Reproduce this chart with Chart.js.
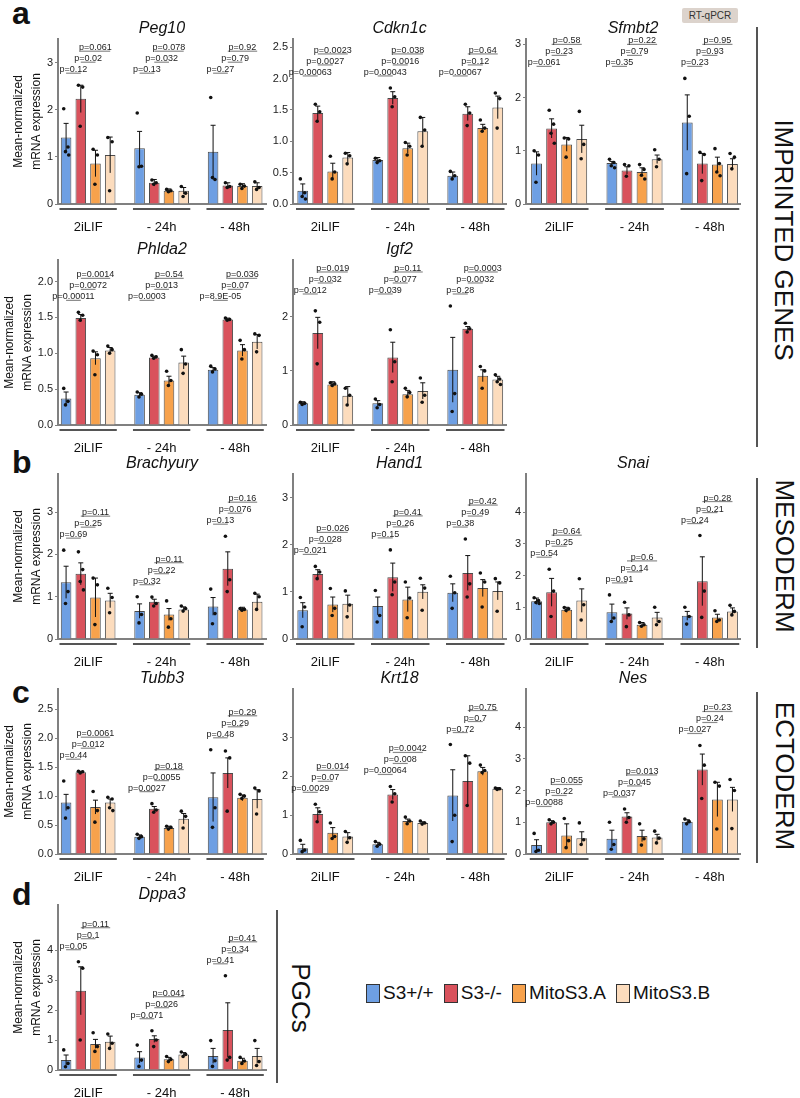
<!DOCTYPE html>
<html>
<head>
<meta charset="utf-8">
<script src="https://cdn.jsdelivr.net/npm/chart.js@4.4.1/dist/chart.umd.min.js"></script>
<style>
  body { margin: 0; background: #fff; font-family: 'Liberation Sans', Arial, sans-serif; }
  #fig { position: relative; width: 800px; height: 1098px; overflow: hidden; background: #fff; }
  #fig canvas { position: absolute; }
  .letter { position: absolute; left: 12px; font-size: 32px; font-weight: bold; line-height: 1; color: #111; }
  .side { position: absolute; font-size: 26px; line-height: 1; color: #111; white-space: nowrap; transform: translate(-50%, -50%) rotate(90deg); }
  .vline { position: absolute; width: 2px; background: #555; }
  .badge { position: absolute; left: 682px; top: 8px; width: 56px; height: 15px; background: #dcd3cc; color: #333;
           font-size: 10px; line-height: 15px; text-align: center; border-radius: 2px; }
  #legend { position: absolute; left: 366px; top: 982px; display: flex; align-items: center; font-size: 19px; color: #111; }
  #legend .item { display: flex; align-items: center; margin-right: 10px; }
  #legend .box { width: 12px; height: 17px; border: 1px solid #333; margin-right: 3px; }
</style>
</head>
<body>
<div id="fig">
  <div class="letter" style="top:-3px">a</div>
  <div class="letter" style="top:446px">b</div>
  <div class="letter" style="top:676px">c</div>
  <div class="letter" style="top:878px">d</div>
  <div class="badge">RT-qPCR</div>
  <div class="vline" style="left:756px;top:27px;height:420px"></div>
  <div class="vline" style="left:756px;top:478px;height:170px"></div>
  <div class="vline" style="left:756px;top:692px;height:171px"></div>
  <div class="vline" style="left:276px;top:910px;height:173px"></div>
  <div class="side" style="left:784px;top:240px">IMPRINTED GENES</div>
  <div class="side" style="left:785px;top:556px">MESODERM</div>
  <div class="side" style="left:785px;top:776px">ECTODERM</div>
  <div class="side" style="left:301px;top:998px">PGCs</div>
  <div id="legend"></div>
</div>
<script>
const groups = ['2iLIF', '- 24h', '- 48h'];
const series = ['S3+/+', 'S3-/-', 'MitoS3.A', 'MitoS3.B'];
const seriesColors = ['#6e9fe3', '#d9525c', '#f7a24c', '#fcdcbd'];
const pairs = [[0, 1], [1, 2], [1, 3]];

// imprinted genes
const peg10Mean = [1.41, 2.23, 0.86, 1.04, 1.18, 0.45, 0.28, 0.28, 1.11, 0.39, 0.38, 0.38];
const peg10Upper = [1.71, 2.52, 1.14, 1.42, 1.54, 0.52, 0.32, 0.35, 1.67, 0.45, 0.43, 0.45];
const peg10Dots = [[2.02, 1.21, 1.11, 1.04], [2.52, 2.48, 1.65], [1.16, 1.04, 0.42], [1.41, 1.32, 0.28],
                   [1.93, 0.80, 0.79], [0.51, 0.45, 0.42], [0.31, 0.28, 0.26], [0.37, 0.23, 0.16],
                   [2.26, 0.52, 0.56], [0.45, 0.37, 0.35], [0.42, 0.38, 0.33], [0.47, 0.35, 0.31]];
const peg10P = [['p=0.12', 'p=0.02', 'p=0.061'], ['p=0.13', 'p=0.032', 'p=0.078'], ['p=0.27', 'p=0.79', 'p=0.92']];
const peg10Ticks = [0, 1, 2, 3];

const cdkn1cMean = [0.21, 1.45, 0.52, 0.74, 0.70, 1.69, 0.89, 1.16, 0.45, 1.44, 1.21, 1.54];
const cdkn1cUpper = [0.32, 1.56, 0.65, 0.82, 0.74, 1.79, 0.97, 1.38, 0.51, 1.55, 1.27, 1.72];
const cdkn1cDots = [[0.40, 0.18, 0.12, 0.08], [1.59, 1.47, 1.32], [0.76, 0.51, 0.40], [0.81, 0.77, 0.64],
                    [0.73, 0.69, 0.66], [1.85, 1.71, 1.55], [0.98, 0.92, 0.78], [1.38, 1.18, 0.92],
                    [0.52, 0.45, 0.40], [1.59, 1.45, 1.25], [1.34, 1.21, 1.16], [1.77, 1.68, 1.21]];
const cdkn1cP = [['p=0.00063', 'p=0.0027', 'p=0.0023'], ['p=0.00043', 'p=0.0016', 'p=0.038'], ['p=0.00067', 'p=0.12', 'p=0.64']];
const cdkn1cTicks = [0, 0.5, 1, 1.5, 2, 2.5];

const sfmbt2Mean = [0.76, 1.42, 1.12, 1.22, 0.77, 0.63, 0.60, 0.84, 1.53, 0.76, 0.74, 0.75];
const sfmbt2Upper = [0.98, 1.60, 1.25, 1.48, 0.80, 0.70, 0.68, 0.92, 2.05, 0.95, 0.88, 0.85];
const sfmbt2Dots = [[1.00, 0.92, 0.41], [1.76, 1.50, 1.33, 1.14], [1.24, 1.22, 0.88], [1.74, 1.12, 0.85],
                    [0.84, 0.78, 0.72, 0.68], [0.74, 0.72, 0.52], [0.74, 0.65, 0.54, 0.47], [1.02, 0.84, 0.70],
                    [2.36, 1.65, 0.57], [0.97, 0.93, 0.44], [1.04, 0.76, 0.60, 0.53], [0.95, 0.88, 0.66]];
const sfmbt2P = [['p=0.061', 'p=0.23', 'p=0.58'], ['p=0.35', 'p=0.79', 'p=0.22'], ['p=0.23', 'p=0.93', 'p=0.95']];
const sfmbt2Ticks = [0, 1, 2, 3];

const phlda2Mean = [0.37, 1.49, 0.93, 1.04, 0.42, 0.94, 0.62, 0.87, 0.77, 1.47, 1.04, 1.16];
const phlda2Upper = [0.46, 1.54, 1.02, 1.08, 0.45, 0.96, 0.68, 0.96, 0.80, 1.49, 1.12, 1.26];
const phlda2Dots = [[0.51, 0.33, 0.28], [1.57, 1.53, 1.46], [1.03, 0.98, 0.70], [1.10, 1.05, 1.00],
                    [0.46, 0.43, 0.39], [0.97, 0.95, 0.93], [0.75, 0.62, 0.55], [1.05, 0.85, 0.72],
                    [0.82, 0.78, 0.74], [1.49, 1.47, 1.46], [1.18, 1.05, 0.92], [1.27, 1.25, 1.02]];
const phlda2P = [['p=0.00011', 'p=0.0072', 'p=0.0014'], ['p=0.0003', 'p=0.013', 'p=0.54'], ['p=8.9E-05', 'p=0.07', 'p=0.036']];
const phlda2Ticks = [0, 0.5, 1, 1.5, 2];

const igf2Mean = [0.40, 1.70, 0.75, 0.54, 0.40, 1.25, 0.57, 0.63, 1.02, 1.78, 0.91, 0.84];
const igf2Upper = [0.43, 1.99, 0.80, 0.71, 0.45, 1.53, 0.64, 0.78, 1.62, 1.82, 1.02, 0.90];
const igf2Dots = [[0.42, 0.40, 0.38], [2.11, 1.90, 1.13], [0.78, 0.76, 0.73], [0.68, 0.55, 0.37],
                  [0.48, 0.38, 0.32], [1.76, 1.17, 0.80], [0.68, 0.60, 0.52], [0.87, 0.55, 0.42],
                  [2.20, 0.58, 0.25], [1.88, 1.78, 1.72], [1.08, 1.00, 0.68], [0.93, 0.85, 0.80, 0.75]];
const igf2P = [['p=0.012', 'p=0.032', 'p=0.019'], ['p=0.039', 'p=0.077', 'p=0.11'], ['p=0.28', 'p=0.0032', 'p=0.0003']];
const igf2Ticks = [0, 1, 2];

// mesoderm
const brachyuryMean = [1.34, 1.54, 0.98, 0.91, 0.66, 0.88, 0.58, 0.70, 0.77, 1.66, 0.70, 0.88];
const brachyuryUpper = [1.72, 1.80, 1.44, 1.08, 0.83, 0.94, 0.72, 0.76, 0.98, 2.06, 0.75, 1.06];
const brachyuryDots = [[2.10, 1.12, 0.84], [2.06, 1.64, 1.36, 1.16], [1.44, 1.28, 0.34], [1.20, 0.98, 0.62],
                       [1.00, 0.58, 0.38], [0.99, 0.84, 0.78], [0.90, 0.48, 0.28], [0.78, 0.72, 0.66],
                       [1.18, 0.60, 0.36], [2.43, 1.40, 1.12], [0.72, 0.70, 0.68], [1.08, 1.00, 0.70]];
const brachyuryP = [['p=0.69', 'p=0.25', 'p=0.11'], ['p=0.32', 'p=0.22', 'p=0.11'], ['p=0.13', 'p=0.076', 'p=0.16']];
const brachyuryTicks = [0, 1, 2, 3];

const hand1Mean = [0.61, 1.38, 0.73, 0.75, 0.70, 1.31, 0.84, 1.00, 0.98, 1.40, 1.08, 1.02];
const hand1Upper = [0.77, 1.47, 0.89, 0.93, 0.89, 1.61, 1.10, 1.15, 1.17, 1.77, 1.26, 1.21];
const hand1Dots = [[0.88, 0.68, 0.26], [1.54, 1.42, 1.28], [1.07, 0.65, 0.50], [1.02, 0.72, 0.47],
                   [1.03, 0.50, 0.36], [1.89, 1.21, 0.94], [1.21, 0.87, 0.45], [1.29, 1.08, 0.61],
                   [1.33, 0.98, 0.65], [2.12, 1.17, 0.89], [1.40, 1.21, 0.68], [1.28, 1.19, 0.59]];
const hand1P = [['p=0.021', 'p=0.028', 'p=0.026'], ['p=0.15', 'p=0.26', 'p=0.41'], ['p=0.38', 'p=0.49', 'p=0.42']];
const hand1Ticks = [0, 1, 2, 3];

const snaiMean = [1.19, 1.47, 0.92, 1.21, 0.84, 0.80, 0.45, 0.68, 0.73, 1.82, 0.68, 0.87];
const snaiUpper = [1.29, 1.91, 1.00, 1.58, 1.10, 0.98, 0.52, 0.84, 0.87, 2.59, 0.78, 0.98];
const snaiDots = [[1.30, 1.21, 1.15, 1.12], [2.20, 1.51, 0.71], [0.99, 0.95, 0.90], [1.90, 1.08, 0.60],
                  [1.39, 0.66, 0.55], [1.16, 0.76, 0.39], [0.52, 0.45, 0.40], [1.00, 0.55, 0.45],
                  [1.00, 0.71, 0.47], [3.26, 1.51, 0.68], [0.89, 0.60, 0.55], [1.06, 0.87, 0.76]];
const snaiP = [['p=0.54', 'p=0.25', 'p=0.64'], ['p=0.91', 'p=0.14', 'p=0.6'], ['p=0.24', 'p=0.21', 'p=0.28']];
const snaiTicks = [0, 1, 2, 3, 4];

// ectoderm
const tubb3Mean = [0.89, 1.41, 0.81, 0.89, 0.30, 0.78, 0.45, 0.61, 0.98, 1.40, 0.97, 0.95];
const tubb3Upper = [1.03, 1.43, 0.93, 0.95, 0.33, 0.82, 0.48, 0.70, 1.40, 1.66, 1.02, 1.11];
const tubb3Dots = [[1.26, 0.80, 0.62], [1.43, 1.42, 1.40], [1.08, 0.75, 0.55], [0.98, 0.95, 0.80, 0.75],
                   [0.34, 0.30, 0.27], [0.87, 0.76, 0.72], [0.48, 0.46, 0.43], [0.74, 0.65, 0.45],
                   [1.80, 0.80, 0.46], [1.78, 1.66, 0.74], [1.03, 1.00, 0.96], [1.14, 1.09, 0.69]];
const tubb3P = [['p=0.44', 'p=0.012', 'p=0.0061'], ['p=0.0027', 'p=0.0055', 'p=0.18'], ['p=0.48', 'p=0.29', 'p=0.29']];
const tubb3Ticks = [0, 0.5, 1, 1.5, 2, 2.5];

const krt18Mean = [0.15, 1.03, 0.55, 0.45, 0.25, 1.53, 0.85, 0.80, 1.51, 1.88, 2.13, 1.68];
const krt18Upper = [0.25, 1.19, 0.68, 0.55, 0.30, 1.66, 0.90, 0.83, 2.17, 2.53, 2.23, 1.71];
const krt18Dots = [[0.35, 0.10, 0.06], [1.28, 1.09, 0.83], [0.80, 0.45, 0.40], [0.58, 0.42, 0.30],
                   [0.32, 0.25, 0.20], [1.74, 1.55, 1.34], [0.95, 0.85, 0.78], [0.85, 0.80, 0.77],
                   [2.82, 1.00, 0.32], [2.53, 2.34, 1.25], [2.29, 2.15, 2.10], [1.70, 1.68, 1.66]];
const krt18P = [['p=0.0029', 'p=0.07', 'p=0.014'], ['p=0.00064', 'p=0.008', 'p=0.0042'], ['p=0.72', 'p=0.7', 'p=0.75']];
const krt18Ticks = [0, 1, 2, 3];

const nesMean = [0.28, 1.00, 0.58, 0.50, 0.48, 1.18, 0.57, 0.52, 1.02, 2.66, 1.72, 1.72];
const nesUpper = [0.45, 1.05, 0.95, 0.70, 0.75, 1.30, 0.75, 0.62, 1.08, 3.15, 2.26, 2.10];
const nesDots = [[0.65, 0.12, 0.08], [1.08, 1.00, 0.95], [1.12, 0.42, 0.20], [0.98, 0.45, 0.30],
                 [1.00, 0.30, 0.15], [1.42, 1.15, 1.00], [0.95, 0.48, 0.28], [0.72, 0.50, 0.35],
                 [1.10, 1.02, 0.95], [3.42, 2.80, 1.75], [2.26, 2.14, 0.79], [2.35, 2.00, 0.80]];
const nesP = [['p=0.0088', 'p=0.22', 'p=0.055'], ['p=0.037', 'p=0.045', 'p=0.013'], ['p=0.027', 'p=0.24', 'p=0.23']];
const nesTicks = [0, 1, 2, 3, 4];

// PGCs
const dppa3Mean = [0.33, 2.64, 0.87, 0.94, 0.42, 1.03, 0.36, 0.52, 0.47, 1.33, 0.31, 0.47];
const dppa3Upper = [0.50, 3.44, 1.02, 1.13, 0.61, 1.14, 0.42, 0.58, 0.72, 2.24, 0.39, 0.72];
const dppa3Dots = [[0.67, 0.22, 0.11], [3.61, 3.39, 1.00], [1.24, 0.78, 0.62], [1.20, 0.89, 0.72],
                   [0.83, 0.33, 0.12], [1.31, 1.00, 0.78], [0.45, 0.35, 0.28], [0.60, 0.52, 0.45],
                   [0.98, 0.31, 0.12], [3.14, 0.42, 0.33], [0.42, 0.30, 0.22], [0.98, 0.28, 0.15]];
const dppa3P = [['p=0.05', 'p=0.1', 'p=0.11'], ['p=0.071', 'p=0.026', 'p=0.041'], ['p=0.41', 'p=0.34', 'p=0.41']];
const dppa3Ticks = [0, 1, 2, 3, 4];

const FONT = "'Liberation Sans', Arial, sans-serif";
Chart.defaults.font.family = FONT;
Chart.defaults.color = '#1a1a1a';

// layout
const rowTops = [39, 260, 474, 689, 905];
const plotH = 165, titleH = 18, xAxisH = 30;
const cols = [
    {left: 0, width: 270, yw: 58, xMin: -0.55, xMax: 13.6},
    {left: 258, width: 252, yw: 35, xMin: -0.65, xMax: 13.55},
    {left: 498, width: 246, yw: 28, xMin: -0.7, xMax: 13.5}
];
const groupCenters = [1.5, 6.5, 11.5];
const jitter = [-0.16, 0.13, -0.04, 0.18, -0.1];

function pos(i) { return Math.floor(i / 4) * 5 + i % 4; }

const panels = [
    {title: 'Peg10', mean: peg10Mean, upper: peg10Upper, dots: peg10Dots, p: peg10P, ticks: peg10Ticks, max: 3.5, dec: 0, row: 0, col: 0, shared: true},
    {title: 'Cdkn1c', mean: cdkn1cMean, upper: cdkn1cUpper, dots: cdkn1cDots, p: cdkn1cP, ticks: cdkn1cTicks, max: 2.63, dec: 1, row: 0, col: 1, shared: true},
    {title: 'Sfmbt2', mean: sfmbt2Mean, upper: sfmbt2Upper, dots: sfmbt2Dots, p: sfmbt2P, ticks: sfmbt2Ticks, max: 3.1, dec: 0, row: 0, col: 2, shared: true},
    {title: 'Phlda2', mean: phlda2Mean, upper: phlda2Upper, dots: phlda2Dots, p: phlda2P, ticks: phlda2Ticks, max: 2.3, dec: 1, row: 1, col: 0, shared: true},
    {title: 'Igf2', mean: igf2Mean, upper: igf2Upper, dots: igf2Dots, p: igf2P, ticks: igf2Ticks, max: 3.05, dec: 0, row: 1, col: 1, shared: true},
    {title: 'Brachyury', mean: brachyuryMean, upper: brachyuryUpper, dots: brachyuryDots, p: brachyuryP, ticks: brachyuryTicks, max: 3.9, dec: 0, row: 2, col: 0},
    {title: 'Hand1', mean: hand1Mean, upper: hand1Upper, dots: hand1Dots, p: hand1P, ticks: hand1Ticks, max: 3.5, dec: 0, row: 2, col: 1},
    {title: 'Snai', mean: snaiMean, upper: snaiUpper, dots: snaiDots, p: snaiP, ticks: snaiTicks, max: 5.2, dec: 0, row: 2, col: 2},
    {title: 'Tubb3', mean: tubb3Mean, upper: tubb3Upper, dots: tubb3Dots, p: tubb3P, ticks: tubb3Ticks, max: 2.85, dec: 1, row: 3, col: 0},
    {title: 'Krt18', mean: krt18Mean, upper: krt18Upper, dots: krt18Dots, p: krt18P, ticks: krt18Ticks, max: 4.25, dec: 0, row: 3, col: 1},
    {title: 'Nes', mean: nesMean, upper: nesUpper, dots: nesDots, p: nesP, ticks: nesTicks, max: 5.2, dec: 0, row: 3, col: 2},
    {title: 'Dppa3', mean: dppa3Mean, upper: dppa3Upper, dots: dppa3Dots, p: dppa3P, ticks: dppa3Ticks, max: 5.5, dec: 0, row: 4, col: 0}
];

// error bars, group underlines and p-value brackets, all placed through the chart scales
function extrasPlugin(p) {
    return {
        id: 'extras',
        afterDatasetsDraw(chart) {
            const {ctx, scales: {x, y}} = chart;
            ctx.save();
            ctx.strokeStyle = '#111';
            ctx.lineWidth = 1;
            p.mean.forEach((m, i) => {
                const px = x.getPixelForValue(pos(i));
                const top = y.getPixelForValue(p.upper[i]);
                const bot = y.getPixelForValue(Math.max(0, 2 * m - p.upper[i]));
                ctx.beginPath();
                ctx.moveTo(px, bot); ctx.lineTo(px, top);
                ctx.moveTo(px - 2.5, top); ctx.lineTo(px + 2.5, top);
                ctx.stroke();
            });
            ctx.restore();
        },
        afterDraw(chart) {
            const {ctx, chartArea, scales: {x, y}} = chart;
            ctx.save();
            // group underlines
            ctx.strokeStyle = '#555';
            ctx.lineWidth = 2;
            groups.forEach((g, gi) => {
                ctx.beginPath();
                ctx.moveTo(x.getPixelForValue(gi * 5 - 0.45), chartArea.bottom + 5);
                ctx.lineTo(x.getPixelForValue(gi * 5 + 3.45), chartArea.bottom + 5);
                ctx.stroke();
            });
            // p-values
            const peak = idx => Math.max(...idx.map(i => Math.max(p.upper[i], ...p.dots[i])));
            const all = p.mean.map((_, i) => i);
            ctx.font = '9px ' + FONT;
            ctx.textAlign = 'center';
            ctx.textBaseline = 'alphabetic';
            groups.forEach((g, gi) => {
                const idx = [0, 1, 2, 3].map(b => gi * 4 + b);
                const base = y.getPixelForValue(p.shared ? peak(all) : peak(idx)) - 12;
                pairs.forEach((pr, k) => {
                    const x1 = x.getPixelForValue(pos(gi * 4 + pr[0]));
                    const x2 = x.getPixelForValue(pos(gi * 4 + pr[1]));
                    const ly = base - k * 11;
                    ctx.strokeStyle = '#8a8a8a';
                    ctx.lineWidth = 1.2;
                    ctx.beginPath();
                    ctx.moveTo(x1, ly); ctx.lineTo(x2, ly);
                    ctx.stroke();
                    ctx.fillStyle = '#222';
                    ctx.fillText(p.p[gi][k], (x1 + x2) / 2, ly - 1);
                });
            });
            ctx.restore();
        }
    };
}

const fig = document.getElementById('fig');
panels.forEach(p => {
    const c = cols[p.col];
    const canvas = document.createElement('canvas');
    canvas.width = c.width;
    canvas.height = titleH + plotH + xAxisH;
    canvas.style.left = c.left + 'px';
    canvas.style.top = (rowTops[p.row] - titleH) + 'px';
    fig.appendChild(canvas);

    const dotData = [];
    p.dots.forEach((d, i) => d.forEach((v, k) => dotData.push({x: pos(i) + jitter[k % jitter.length], y: v})));

    new Chart(canvas, {
        type: 'bar',
        data: {
            datasets: [
                {
                    type: 'scatter',
                    data: dotData,
                    pointRadius: 1.8,
                    pointBackgroundColor: '#111',
                    pointBorderWidth: 0,
                    order: 0
                },
                {
                    type: 'bar',
                    data: p.mean.map((m, i) => ({x: pos(i), y: m})),
                    backgroundColor: p.mean.map((m, i) => seriesColors[i % 4]),
                    borderColor: '#4a4a4a',
                    borderWidth: 1,
                    barPercentage: 0.72,
                    categoryPercentage: 1,
                    order: 2
                }
            ]
        },
        options: {
            responsive: false,
            animation: false,
            events: [],
            layout: {padding: {left: 0, right: 4, top: 0, bottom: 0}},
            plugins: {
                legend: {display: false},
                tooltip: {enabled: false},
                title: {
                    display: true,
                    text: p.title,
                    fullSize: false,
                    color: '#111',
                    font: {size: 16, style: 'italic', weight: 'normal', lineHeight: 1},
                    padding: {top: 0, bottom: 2}
                }
            },
            scales: {
                x: {
                    type: 'linear',
                    min: c.xMin,
                    max: c.xMax,
                    offset: false,
                    grid: {display: false},
                    border: {display: true, color: '#808080', width: 2},
                    afterBuildTicks: s => { s.ticks = groupCenters.map(v => ({value: v})); },
                    afterFit: s => { s.height = xAxisH; },
                    ticks: {
                        autoSkip: false,
                        maxRotation: 0,
                        padding: 8,
                        color: '#111',
                        font: {size: 13},
                        callback: v => groups[groupCenters.indexOf(v)]
                    }
                },
                y: {
                    min: 0,
                    max: p.max,
                    afterBuildTicks: s => { s.ticks = p.ticks.map(v => ({value: v})); },
                    afterFit: s => { s.width = c.yw; },
                    grid: {display: true, drawOnChartArea: false, drawTicks: true, tickLength: 3, color: '#808080'},
                    border: {display: true, color: '#808080', width: 2},
                    ticks: {padding: 2, color: '#222', font: {size: 11}, callback: v => v.toFixed(p.dec)},
                    title: {
                        display: p.col === 0,
                        text: ['Mean-normalized', 'mRNA expression'],
                        color: '#111',
                        font: {size: 12, lineHeight: 1.5},
                        // wider decimal tick labels push the axis title further left
                        padding: {top: p.dec ? 1 : 10, bottom: 0}
                    }
                }
            }
        },
        plugins: [extrasPlugin(p)]
    });
});

// legend
const legend = document.getElementById('legend');
series.forEach((s, i) => {
    const item = document.createElement('div');
    item.className = 'item';
    item.innerHTML = `<span class="box" style="background:${seriesColors[i]}"></span><span>${s}</span>`;
    legend.appendChild(item);
});
</script>
</body>
</html>
